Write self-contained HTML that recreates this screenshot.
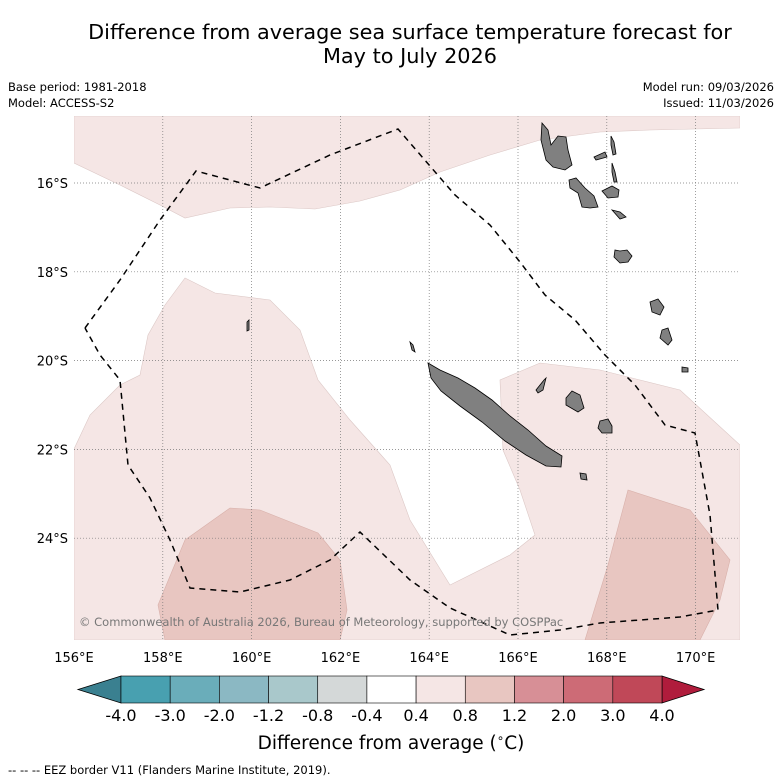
<!DOCTYPE html>
<html><head><meta charset="utf-8"><style>
body{margin:0;background:#fff;width:781px;height:781px;overflow:hidden;font-family:"Liberation Sans","DejaVu Sans",sans-serif}
svg{display:block}
</style></head><body>
<svg width="781" height="781" viewBox="0 0 781 781">
<text x="410" y="39" text-anchor="middle" font-size="20.8" fill="#000" font-family="DejaVu Sans,Liberation Sans,sans-serif">Difference from average sea surface temperature forecast for</text>
<text x="410" y="63" text-anchor="middle" font-size="20.8" fill="#000" font-family="DejaVu Sans,Liberation Sans,sans-serif">May to July 2026</text>
<text x="8" y="91" font-size="11.5" font-family="DejaVu Sans,sans-serif">Base period: 1981-2018</text>
<text x="8" y="107" font-size="11.5" font-family="DejaVu Sans,sans-serif">Model: ACCESS-S2</text>
<text x="774" y="91" text-anchor="end" font-size="11.5" font-family="DejaVu Sans,sans-serif">Model run: 09/03/2026</text>
<text x="774" y="107" text-anchor="end" font-size="11.5" font-family="DejaVu Sans,sans-serif">Issued: 11/03/2026</text>

<g>
<clipPath id="mc"><rect x="74" y="116" width="666" height="524"/></clipPath>
<g clip-path="url(#mc)">
<rect x="74" y="116" width="666" height="524" fill="#fff"/>
<polygon fill="#f5e6e5" stroke="#dcc8c6" stroke-width="0.6" points="74,116 740,116 740,128 650,130 600,132 540,140 490,155 440,172 400,190 360,201 315,209 270,207 230,208 185,218 160,205 120,185 74,163"/>
<polygon fill="#f5e6e5" stroke="#dcc8c6" stroke-width="0.6" points="74,449 90,415 120,385 140,375 148,335 165,305 185,278 215,293 270,300 300,330 318,380 350,420 390,465 410,520 450,585 510,555 535,535 520,490 503,450 500,380 540,363 600,370 680,390 740,445 740,640 74,640"/>
<polygon fill="#e8c6c1" stroke="#d8b0aa" stroke-width="0.6" points="158,605 185,540 230,508 260,510 318,533 340,560 347,610 340,640 165,640"/>
<polygon fill="#e8c6c1" stroke="#d8b0aa" stroke-width="0.6" points="585,640 608,565 628,490 690,510 730,560 720,600 700,640"/>
<g id="grid"></g>
<g fill="#808080" stroke="#000" stroke-width="0.8">
<polygon points="428,363 440,370 458,378 475,388 492,400 510,416 528,430 546,446 562,456 561,467 546,466 526,455 505,441 482,422 460,406 441,391 431,378"/>
<polygon points="542,123 548,130 551,145 558,136 566,137 568,150 572,165 565,170 553,167 546,160 541,140"/>
<polygon points="594,157 605,152 607,157 596,160"/>
<polygon points="611,136 614,142 616,154 613,155 611,145"/>
<polygon points="612,163 615,172 617,182 614,182 612,172"/>
<polygon points="569,180 576,178 585,188 594,196 598,207 590,208 582,207 578,193 570,188"/>
<polygon points="602,191 612,186 619,190 618,197 608,198"/>
<polygon points="612,210 620,212 626,217 620,219"/>
<polygon points="615,250 620,251 627,250 632,256 628,262 620,263 614,257"/>
<polygon points="650,302 658,299 664,307 660,315 652,312"/>
<polygon points="662,330 668,328 672,340 668,345 660,338"/>
<polygon points="682,367 688,368 688,372 682,372"/>
<polygon points="566,398 572,391 580,395 584,408 578,412 566,405"/>
<polygon points="600,421 608,419 612,426 612,433 602,433 598,428"/>
<polygon points="536,390 544,380 546,378 543,390 538,393"/>
<polygon points="580,473 586,474 587,480 581,479"/>
<polygon points="247,322 249,320 249,330 247,331"/>
<polygon points="410,342 413,345 415,352 412,350"/>
</g>
<polyline fill="none" stroke="#000" stroke-width="1.5" stroke-dasharray="6,5" points="85,328 120,280 160,220 196,171 260,188 330,155 398,129 455,195 490,225 520,262 545,295 575,320 605,355 635,385 665,425 695,433 710,515 718,610 680,617 640,620 600,623 560,630 510,635 450,608 410,580 360,532 330,560 290,580 240,592 190,588 170,540 150,498 128,465 120,380 100,355 85,328"/>
<text x="79" y="626" font-size="11.5" fill="#777" font-family="DejaVu Sans,sans-serif">© Commonwealth of Australia 2026, Bureau of Meteorology, supported by COSPPac</text>
</g>
<g id="axes"></g>
</g>

<g id="cbar"></g>
<text x="391" y="749" text-anchor="middle" font-size="18.5" font-family="DejaVu Sans,sans-serif">Difference from average (<tspan baseline-shift="super" font-size="12">∘</tspan>C)</text>
<text x="8" y="774" font-size="11.5" font-family="DejaVu Sans,sans-serif">--  --  -- EEZ border V11 (Flanders Marine Institute, 2019).</text>
</svg>
<script>
const lonTicks=[156,158,160,162,164,166,168,170];
const latTicks=[16,18,20,22,24];
const levels=["-4.0","-3.0","-2.0","-1.2","-0.8","-0.4","0.4","0.8","1.2","2.0","3.0","4.0"];
const binColors=["#48a0b0","#6aadba","#8bb8c3","#a9c8cb","#d4d8d8","#ffffff","#f5e6e5","#e8c6c1","#d78f96","#cd6b76","#c04858"];
const NS="http://www.w3.org/2000/svg";
const xLon=l=>74+(l-156)*44.4;
const yLat=l=>183+(l-16)*44.4;
function mk(t,a,p){const e=document.createElementNS(NS,t);for(const k in a)e.setAttribute(k,a[k]);p.appendChild(e);return e;}
const grid=document.getElementById('grid'),axes=document.getElementById('axes');
lonTicks.forEach(l=>{const x=xLon(l);
 if(l>156){const g=mk('line',{x1:x,x2:x,y1:116,y2:640,stroke:'#777','stroke-width':0.7,'stroke-dasharray':'1,2'},grid);
 
 }
 const t=mk('text',{x:x,y:662,'text-anchor':'middle','font-size':13,'font-family':'DejaVu Sans,sans-serif'},axes);t.textContent=l+'°E';
 
 });
latTicks.forEach(l=>{const y=yLat(l);
 const g=mk('line',{x1:74,x2:740,y1:y,y2:y,stroke:'#777','stroke-width':0.7,'stroke-dasharray':'1,2'},grid);
 
 
 const t=mk('text',{x:68,y:y+5,'text-anchor':'end','font-size':13,'font-family':'DejaVu Sans,sans-serif'},axes);t.textContent=l+'°S';
 
 });
const cb=document.getElementById('cbar');
const x0=121,x1=662,y0=676,y1=703,bw=(x1-x0)/binColors.length;
const lt=mk('polygon',{points:`${x0},${y0} ${x0},${y1} 78,${(y0+y1)/2}`,fill:'#3a8090',stroke:'#000','stroke-width':0.8},cb);


const rt=mk('polygon',{points:`${x1},${y0} ${x1},${y1} 704,${(y0+y1)/2}`,fill:'#b01c3c',stroke:'#000','stroke-width':0.8},cb);


binColors.forEach((c,i)=>{const r=mk('rect',{x:x0+i*bw,y:y0,width:bw,height:y1-y0,fill:c,stroke:'#000','stroke-width':0.6},cb);
 
 });
levels.forEach((s,i)=>{const t=mk('text',{x:x0+i*bw,y:721,'text-anchor':'middle','font-size':16,'font-family':'DejaVu Sans,sans-serif'},cb);t.textContent=s;
 
 });
</script>
</body></html>
